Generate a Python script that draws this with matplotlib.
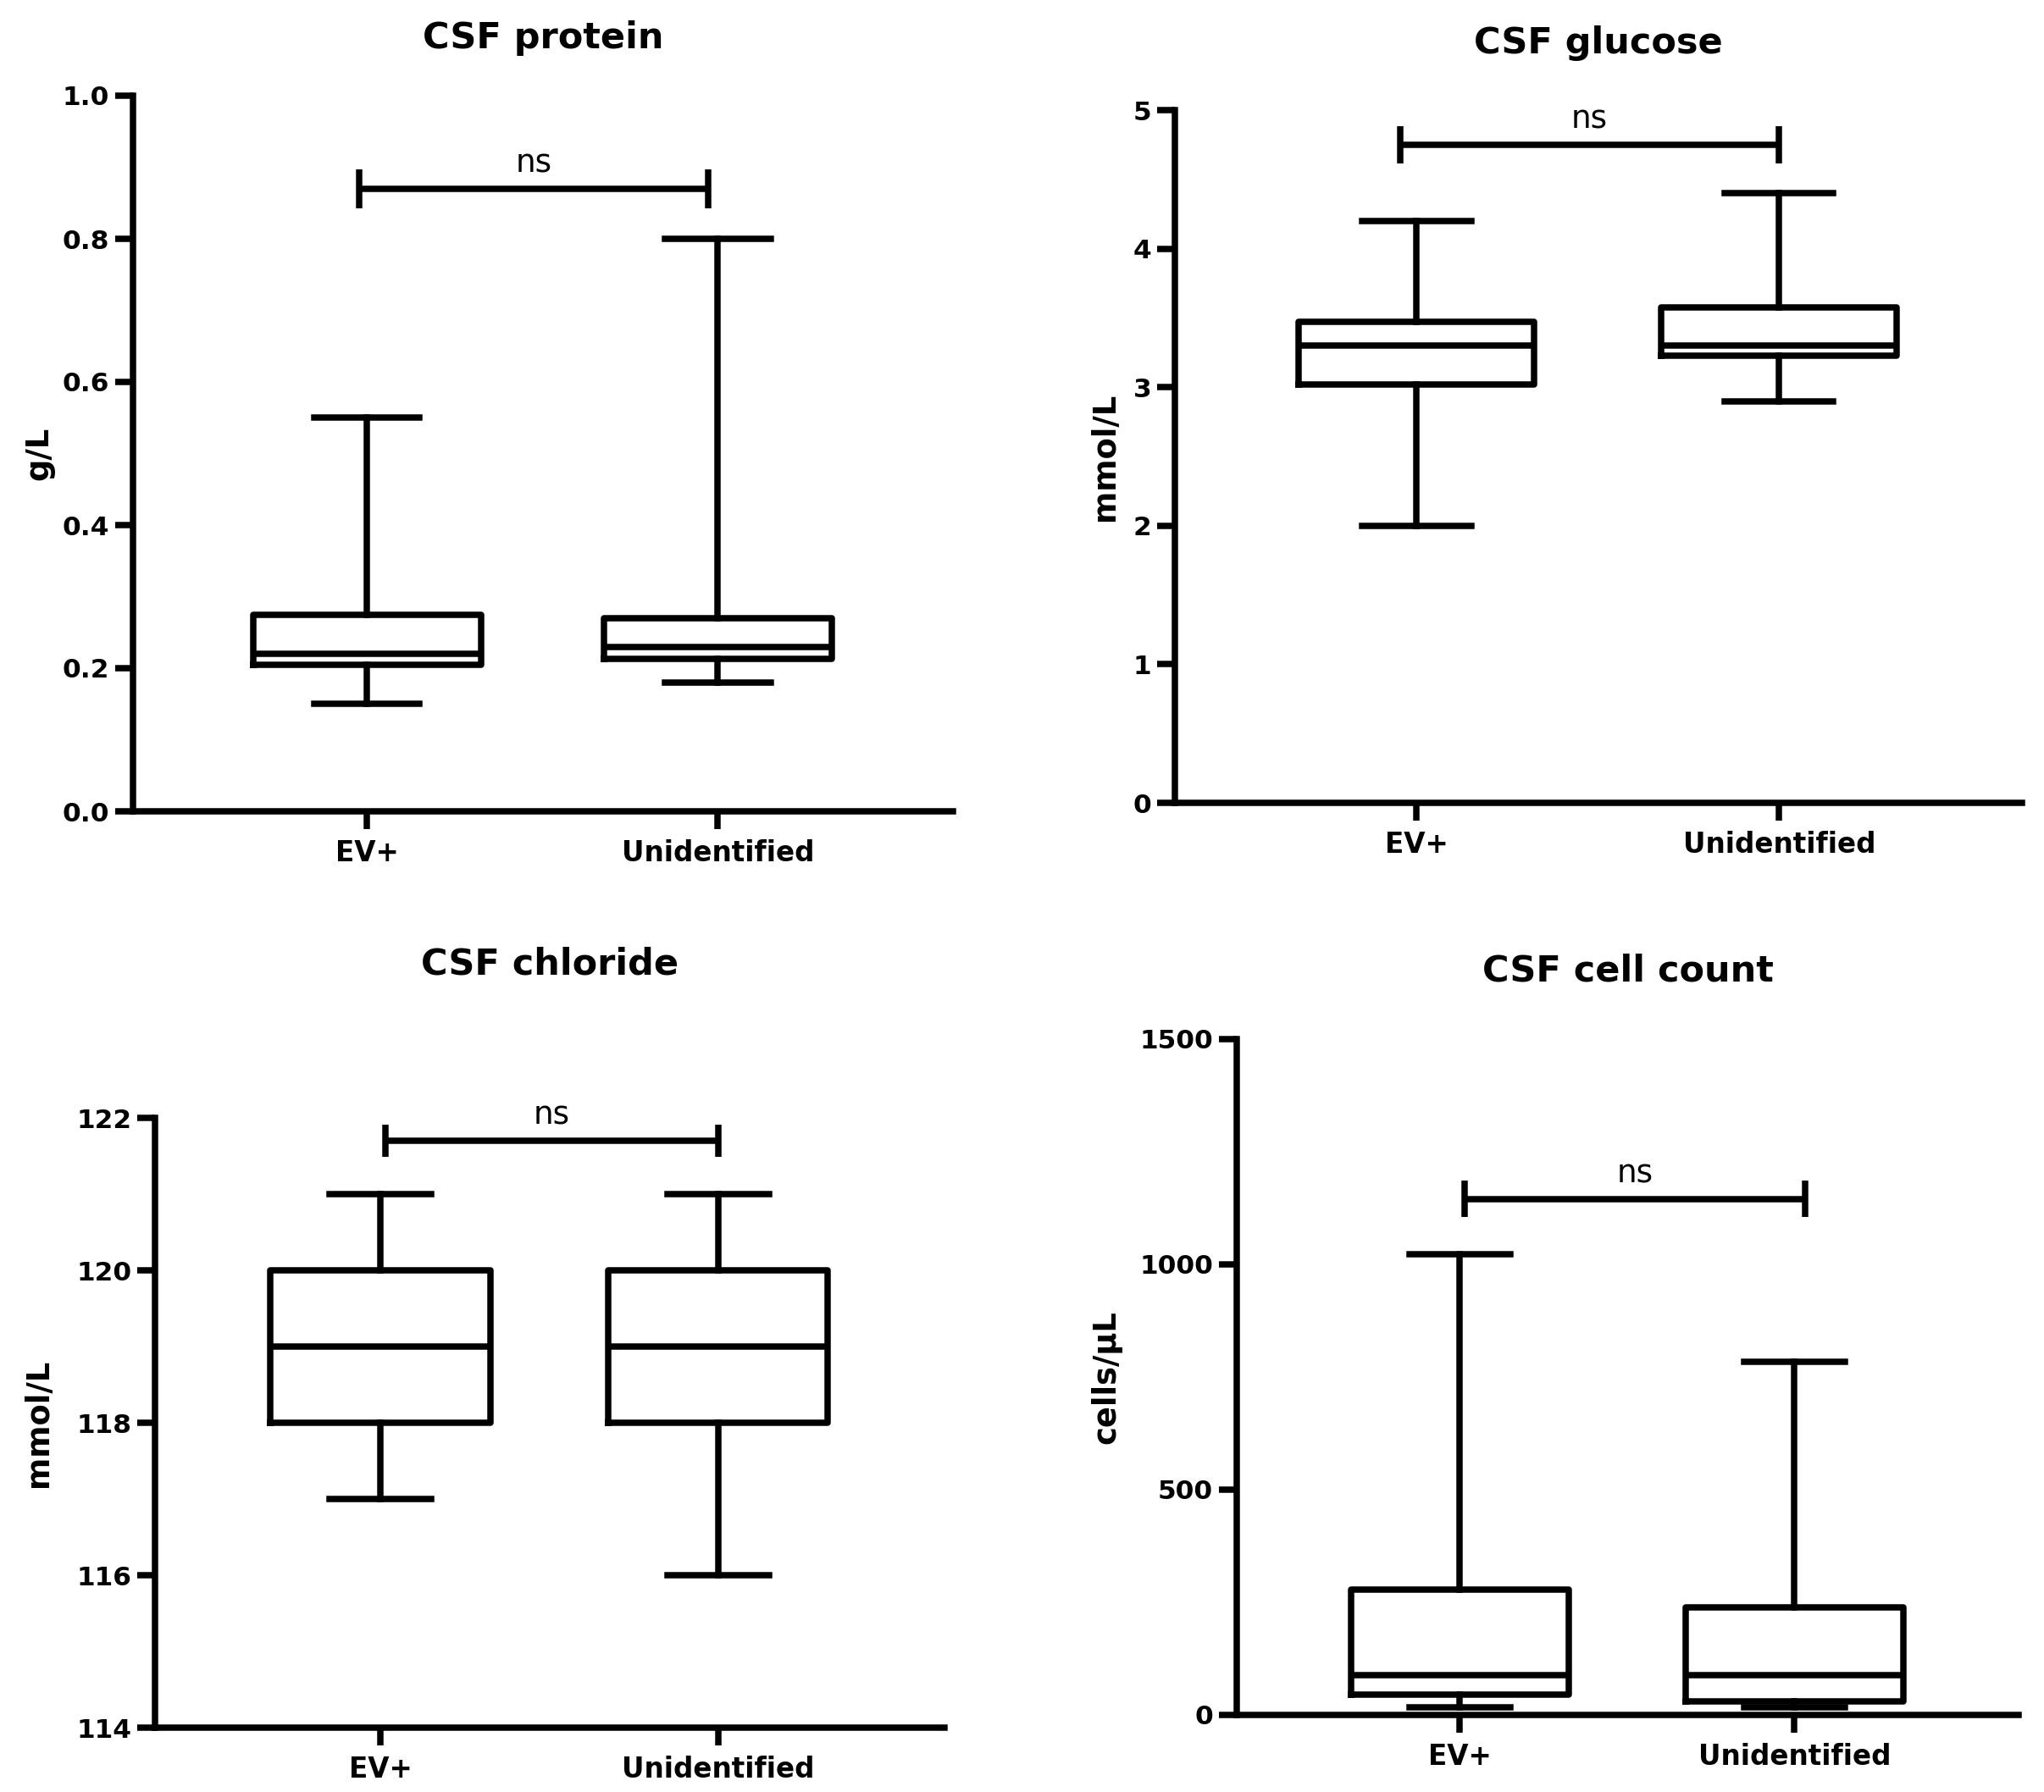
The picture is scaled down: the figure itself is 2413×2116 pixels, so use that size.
import matplotlib
matplotlib.use('Agg')
import matplotlib.pyplot as plt

# ---------------- data ----------------
groups = ['EV+', 'Unidentified']
stat_keys = ['whislo', 'q1', 'med', 'q3', 'whishi']

protein_ev = [0.15, 0.205, 0.22, 0.275, 0.55]
protein_un = [0.18, 0.213, 0.23, 0.27, 0.80]
glucose_ev = [2.0, 3.02, 3.30, 3.47, 4.20]
glucose_un = [2.9, 3.225, 3.30, 3.575, 4.40]
chloride_ev = [117, 118, 119, 120, 121]
chloride_un = [116, 118, 119, 120, 121]
cells_ev = [16, 46, 89, 279, 1022]
cells_un = [16, 31, 89, 238, 784]

titles = ['CSF protein', 'CSF glucose', 'CSF chloride', 'CSF cell count']
ylabels = ['g/L', 'mmol/L', 'mmol/L', 'cells/µL']
yticks = [[0.0, 0.2, 0.4, 0.6, 0.8, 1.0],
          [0, 1, 2, 3, 4, 5],
          [114, 116, 118, 120, 122],
          [0, 500, 1000, 1500]]
ytick_labels = [['0.0', '0.2', '0.4', '0.6', '0.8', '1.0'],
                ['0', '1', '2', '3', '4', '5'],
                ['114', '116', '118', '120', '122'],
                ['0', '500', '1000', '1500']]
sig_y = [0.87, 4.75, 121.7, 1145]
sig_text = ['ns', 'ns', 'ns', 'ns']

panel_data = [(protein_ev, protein_un), (glucose_ev, glucose_un),
              (chloride_ev, chloride_un), (cells_ev, cells_un)]

# ---------------- layout ----------------
W, H = 2413, 2116
rects_px = [(157, 113, 1125, 958),
            (1387, 130, 2387, 948),
            (183, 1320, 1115, 2040),
            (1460, 1227, 2383, 2025)]
title_pads = [40, 48, 122, 49]
ylabel_x = [-0.115, -0.082, -0.147, -0.167]
sig_ends = [(-0.022, 0.973), (-0.046, 1.0), (0.015, 1.0), (0.015, 1.033)]

LW = 5.4
fig = plt.figure(figsize=(W / 100, H / 100), dpi=100)

for i in range(4):
    l, t, r, b = rects_px[i]
    ax = fig.add_axes([l / W, 1 - b / H, (r - l) / W, (b - t) / H])
    ev, un = panel_data[i]
    stats = []
    for vals, lab in zip((ev, un), groups):
        d = dict(zip(stat_keys, vals))
        d['label'] = lab
        d['fliers'] = []
        stats.append(d)
    line = dict(color='black', linewidth=LW)
    ax.bxp(stats, positions=[0, 1], widths=0.65, capwidths=0.3,
           showfliers=False, manage_ticks=False,
           boxprops=line, whiskerprops=line, capprops=line,
           medianprops=dict(color='black', linewidth=LW))

    ymin, ymax = yticks[i][0], yticks[i][-1]
    ax.set_ylim(ymin, ymax)
    ax.set_xlim(-0.667, 1.67)
    ax.set_yticks(yticks[i])
    ax.set_yticklabels(ytick_labels[i], fontsize=22.5, fontweight='bold')
    ax.set_xticks([0, 1])
    ax.set_xticklabels(groups, fontsize=23.5, fontweight='bold')
    ax.tick_params(axis='y', width=5.4, length=15, pad=5)
    ax.tick_params(axis='x', width=5.4, length=15, pad=9)
    for s in ['top', 'right']:
        ax.spines[s].set_visible(False)
    for s in ['left', 'bottom']:
        ax.spines[s].set_linewidth(5.4)
        ax.spines[s].set_capstyle('projecting')

    ax.set_title(titles[i], fontsize=31, fontweight='bold', pad=title_pads[i])
    ax.set_ylabel(ylabels[i], fontsize=26.5, fontweight='bold', va='center')
    ax.yaxis.set_label_coords(ylabel_x[i], 0.5)

    # significance bar
    y = sig_y[i]
    x0, x1 = sig_ends[i]
    h = 0.027 * (ymax - ymin)
    ax.plot([x0, x1], [y, y], color='black', lw=LW, clip_on=False,
            solid_capstyle='butt')
    for xx in (x0, x1):
        ax.plot([xx, xx], [y - h, y + h], color='black', lw=LW,
                clip_on=False, solid_capstyle='butt')
    ax.annotate(sig_text[i], xy=((x0 + x1) / 2, y), xytext=(0, 14),
                textcoords='offset points', ha='center', va='baseline',
                fontsize=27, annotation_clip=False)

fig.savefig('out.png', dpi=100)
